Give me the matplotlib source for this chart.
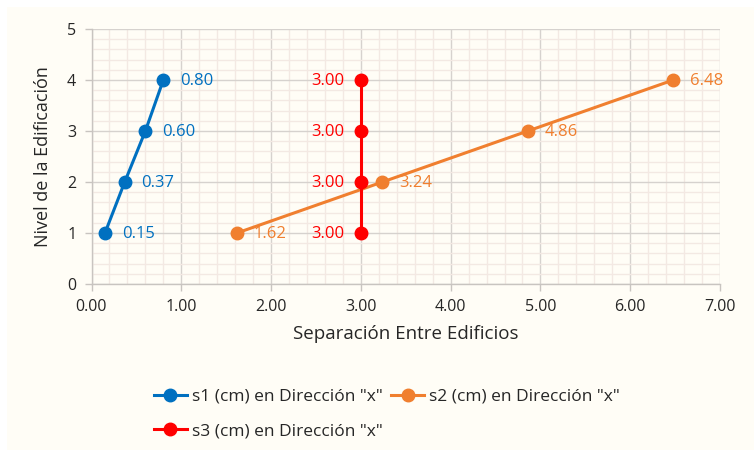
import matplotlib
matplotlib.use("Agg")
import matplotlib.pyplot as plt
from matplotlib.patches import Rectangle
from matplotlib.ticker import MultipleLocator, FormatStrFormatter

plt.rcParams['font.family'] = ['Open Sans', 'DejaVu Sans']

# Story levels and lateral separations (cm)
niveles = [1, 2, 3, 4]
s1 = [0.15, 0.37, 0.60, 0.80]
s2 = [1.62, 3.24, 4.86, 6.48]
s3 = [3.00, 3.00, 3.00, 3.00]

nombres = ['s1 (cm) en Dirección "x"', 's2 (cm) en Dirección "x"', 's3 (cm) en Dirección "x"']
colores = ['#0070C0', '#F07F2F', '#FF0000']

fig = plt.figure(figsize=(7.54, 4.5), dpi=100, facecolor='white')
fig.patches.append(Rectangle((7 / 754, 0), 1, 443 / 450, transform=fig.transFigure,
                             facecolor='#FFFDF6', edgecolor='none', zorder=-10))

ax = fig.add_axes([91.5 / 754, 1 - 284 / 450, (720 - 91.5) / 754, (284 - 29) / 450])
ax.set_facecolor('#FFFDF6')

ax.set_xlim(0, 7)
ax.set_ylim(0, 5)
ax.xaxis.set_major_locator(MultipleLocator(1))
ax.xaxis.set_minor_locator(MultipleLocator(0.2))
ax.yaxis.set_major_locator(MultipleLocator(1))
ax.yaxis.set_minor_locator(MultipleLocator(0.2))
ax.xaxis.set_major_formatter(FormatStrFormatter('%.2f'))
ax.yaxis.set_major_formatter(FormatStrFormatter('%d'))

ax.grid(which='minor', color='#F3E9E3', linewidth=1.0, zorder=0)
ax.grid(which='major', color='#D6D2CE', linewidth=1.0, zorder=0.5)
ax.set_axisbelow(True)

for side in ['top', 'right']:
    ax.spines[side].set_visible(False)
for side in ['left', 'bottom']:
    ax.spines[side].set_color('#C8C4C0')
    ax.spines[side].set_linewidth(1.0)

ax.tick_params(which='major', length=5, width=1, color='#C8C4C0',
               labelsize=11.5, labelcolor='#262626', pad=6)
ax.tick_params(which='minor', length=0)

ax.set_xlabel('Separación Entre Edificios', fontsize=13.5, color='#262626', labelpad=7)
ax.set_ylabel('Nivel de la Edificación', fontsize=13, color='#262626', labelpad=11)

handles = []
for datos, nombre, color in zip([s1, s2, s3], nombres, colores):
    h, = ax.plot(datos, niveles, color=color, linewidth=2.2, marker='o',
                 markersize=9, label=nombre, zorder=3, clip_on=False)
    handles.append(h)

# value labels
for x, y in zip(s1, niveles):
    ax.annotate(f'{x:.2f}', (x, y), xytext=(12, -1), textcoords='offset points',
                ha='left', va='center', color=colores[0], fontsize=12)
for x, y in zip(s2, niveles):
    ax.annotate(f'{x:.2f}', (x, y), xytext=(12, -1), textcoords='offset points',
                ha='left', va='center', color=colores[1], fontsize=12)
for x, y in zip(s3, niveles):
    ax.annotate(f'{x:.2f}', (x, y), xytext=(-12, -1), textcoords='offset points',
                ha='right', va='center', color=colores[2], fontsize=12)

fig.legend([handles[0], handles[2], handles[1]], [nombres[0], nombres[2], nombres[1]],
           ncol=2, loc='upper left', bbox_to_anchor=(138 / 754, 1 - 373 / 450),
           frameon=False, fontsize=12.5, handlelength=1.9, handletextpad=0.3,
           columnspacing=0.5, labelspacing=1.05, labelcolor='#262626')

fig.savefig('out.png', dpi=100, facecolor=fig.get_facecolor())
